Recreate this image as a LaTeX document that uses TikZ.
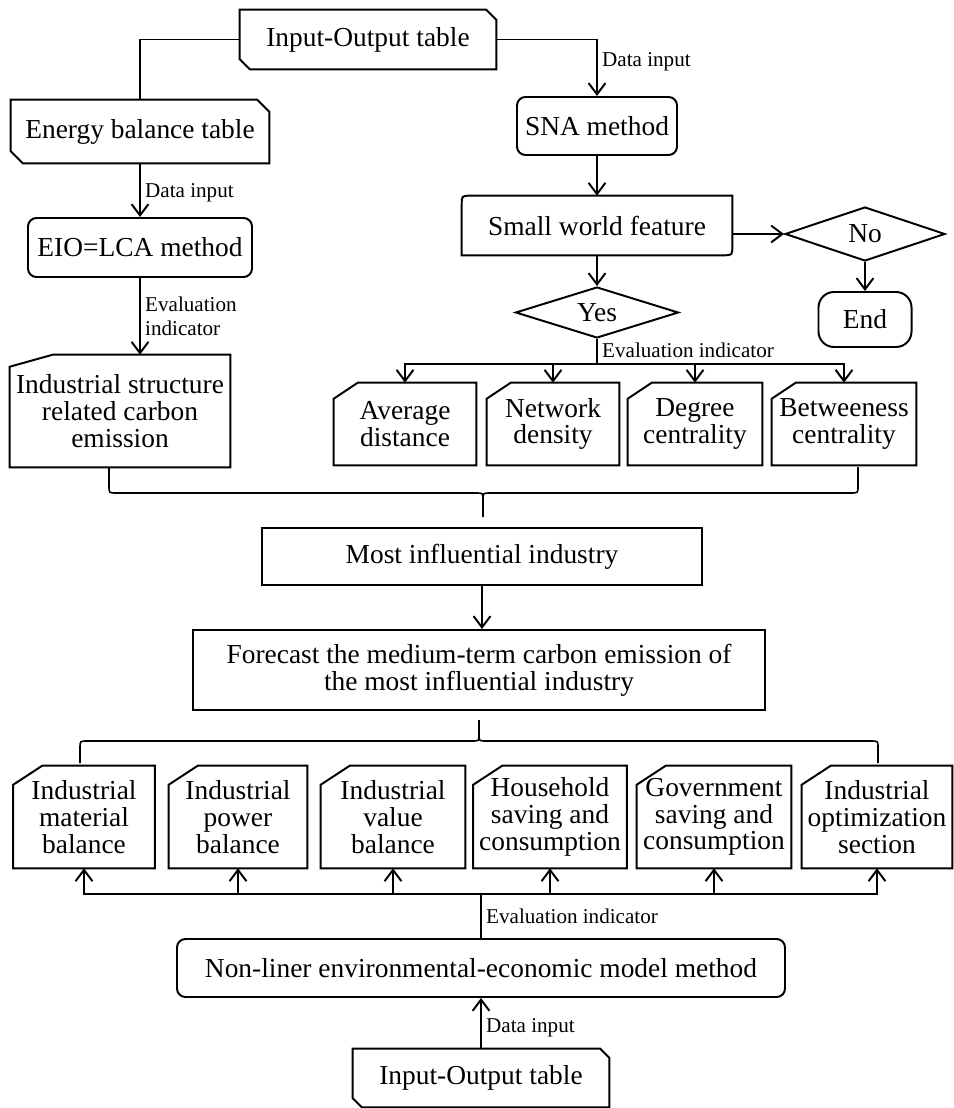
\documentclass[tikz,border=0pt]{standalone}
\usepackage{fontspec}
\setmainfont{Liberation Serif}
\usetikzlibrary{positioning,shapes.geometric,calc,arrows.meta}

\newcommand{\pxu}{0.025cm}
% box with cut north east and south west corners
\newcommand{\tapeframe}[2]{%
 \draw[boxline] (#1.north west) -- ($(#1.north east)+(-#2,0)$) -- ($(#1.north east)+(0,#2)$)
  -- (#1.south east) -- ($(#1.south west)+(#2,0)$) -- ($(#1.south west)+(0,-#2)$) -- cycle;}
% box with cut north west corner
\newcommand{\cardframe}[3]{%
 \draw[boxline] ($(#1.north west)+(#2,0)$) -- (#1.north east) -- (#1.south east)
  -- (#1.south west) -- ($(#1.north west)+(0,#3)$) -- cycle;}

\begin{document}
\begin{tikzpicture}[x=\pxu,y=-\pxu,
  boxline/.style={line width=1.4pt},
  box/.style={align=center,inner sep=0pt,font=\fontsize{19.5}{19}\selectfont},
  sz/.style 2 args={minimum width=#1*\pxu,minimum height=#2*\pxu},
  lbl/.style={align=left,inner sep=3pt,font=\fontsize{15}{17}\selectfont},
  conn/.style={line width=1.4pt},
  arr/.style={line width=1.4pt,-{Straight Barb[length=8pt,width=12pt]}},
  brace/.style={line width=1.1pt}]

\useasboundingbox (0,0) rectangle (953,1108);

% left branch
\node[box,sz={256}{59}] (io1) at (368,39.5) {Input-Output table};
\node[box,sz={258}{63}] (ebt) at (140,131.5) {Energy balance table};
\node[box,draw,boxline,rounded corners=6pt,sz={224}{59}] (eio) at (140,247.5) {EIO=LCA method};
\node[box,sz={220}{112}] (isc) at (120,411) {Industrial structure\\related carbon\\emission};
\tapeframe{io1}{10}
\tapeframe{ebt}{12}
\cardframe{isc}{43}{12}

% right branch
\node[box,draw,boxline,rounded corners=6pt,sz={160}{58}] (sna) at (597,126) {SNA method};
\node[box,sz={270}{59}] (swf) at (597,225.5) {Small world feature};
\draw[boxline] (swf.north east) -- ($(swf.south east)+(0,-9)$) .. controls (swf.south east) .. ($(swf.south east)+(-9,0)$)
  -- (swf.south west) -- ($(swf.north west)+(0,9)$) .. controls (swf.north west) .. ($(swf.north west)+(9,0)$) -- cycle;
\node[box,draw,boxline,diamond,aspect=3,sz={160}{54}] (no) at (865,234) {No};
\node[box,draw,boxline,rounded corners=11pt,sz={93}{55}] (stop) at (865,319.5) {End};
\node[box,draw,boxline,diamond,aspect=3,sz={163}{51}] (yes) at (597,312.5) {Yes};

\node[box,sz={142}{82}] (avg) at (405,424) {Average\\distance};
\node[box,sz={132}{82}] (net) at (553,424) {Network\\density};
\node[box,sz={134}{82}] (deg) at (695,424) {Degree\\centrality};
\node[box,sz={144}{82}] (btw) at (844,424) {Betweeness\\centrality};
\foreach \b in {avg,net,deg,btw}{
  \cardframe{\b}{24}{16}
}

% middle
\node[box,draw,boxline,sz={440}{57}] (mii) at (482,556.5) {Most influential industry};
\node[box,draw,boxline,sz={572}{80}] (fc) at (479,670) {Forecast the medium-term carbon emission of\\the most influential industry};

% lower row
\node[box,sz={141}{102}] (b1) at (84,817) {Industrial\\material\\balance};
\node[box,sz={138}{102}] (b2) at (238,817) {Industrial\\power\\balance};
\node[box,sz={144}{102}] (b3) at (393,817) {Industrial\\value\\balance};
\node[box,sz={153}{102}] (b4) at (550,817) {Household\\saving and\\consumption};
\node[box,sz={154}{102}] (b5) at (714,817) {Government\\saving and\\consumption};
\node[box,sz={150}{102}] (b6) at (877,817) {Industrial\\optimization\\section};
\foreach \b in {b1,b2,b3,b4,b5,b6}{
  \cardframe{\b}{29}{19}
}

\node[box,draw,boxline,rounded corners=6pt,sz={608}{58}] (nle) at (481,968) {Non-liner environmental-economic model method};
\node[box,sz={256}{58}] (io2) at (481,1078) {Input-Output table};
\tapeframe{io2}{9}

% connectors
\draw[conn] (io1.west) -| (ebt.north);
\draw[arr] (io1.east) -| node[lbl,right,pos=0.7]{Data input} (sna.north);
\draw[arr] (ebt.south) -- node[lbl,right,pos=0.55]{Data input} (eio.north);
\draw[arr] (eio.south) -- node[lbl,right]{Evaluation\\indicator} (eio.south |- isc.north);

\draw[arr] (sna.south) -- (swf.north);
\draw[arr] (swf.east |- no.west) -- (no.west);
\draw[arr] (no.south) -- (stop.north);
\draw[arr] (swf.south) -- (yes.north);
\coordinate (ybr) at ($(yes.south)+(0,25)$);
\draw[conn] (yes.south) -- node[lbl,right,pos=0.45]{Evaluation indicator} (ybr);
\foreach \b in {avg,net,deg,btw}{
  \draw[arr] (ybr) -| (\b.north);
}

% braces
\draw[brace] (109,467) -- (109,486) .. controls (109,493) .. (116,493) -- (476,493)
  .. controls (483,493) .. (483,500) -- (483,517);
\draw[brace] (858,467) -- (858,486) .. controls (858,493) .. (851,493) -- (490,493)
  .. controls (483,493) .. (483,500);
\draw[arr] (mii.south) -- (mii.south |- fc.north);
\draw[brace] (80,763) -- (80,748) .. controls (80,741) .. (87,741) -- (472,741)
  .. controls (479,741) .. (479,734) -- (479,720);
\draw[brace] (878,763) -- (878,748) .. controls (878,741) .. (871,741) -- (486,741)
  .. controls (479,741) .. (479,734);

\draw[arr] (io2.north) -- node[lbl,right,pos=0.42]{Data input} (nle.south);
\coordinate (nbr) at ($(nle.north)+(0,-44)$);
\draw[conn] (nle.north) -- node[lbl,right]{Evaluation indicator} (nbr);
\foreach \b in {b1,b2,b3,b4,b5,b6}{
  \draw[arr] (nbr) -| (\b.south);
}

\end{tikzpicture}
\end{document}
